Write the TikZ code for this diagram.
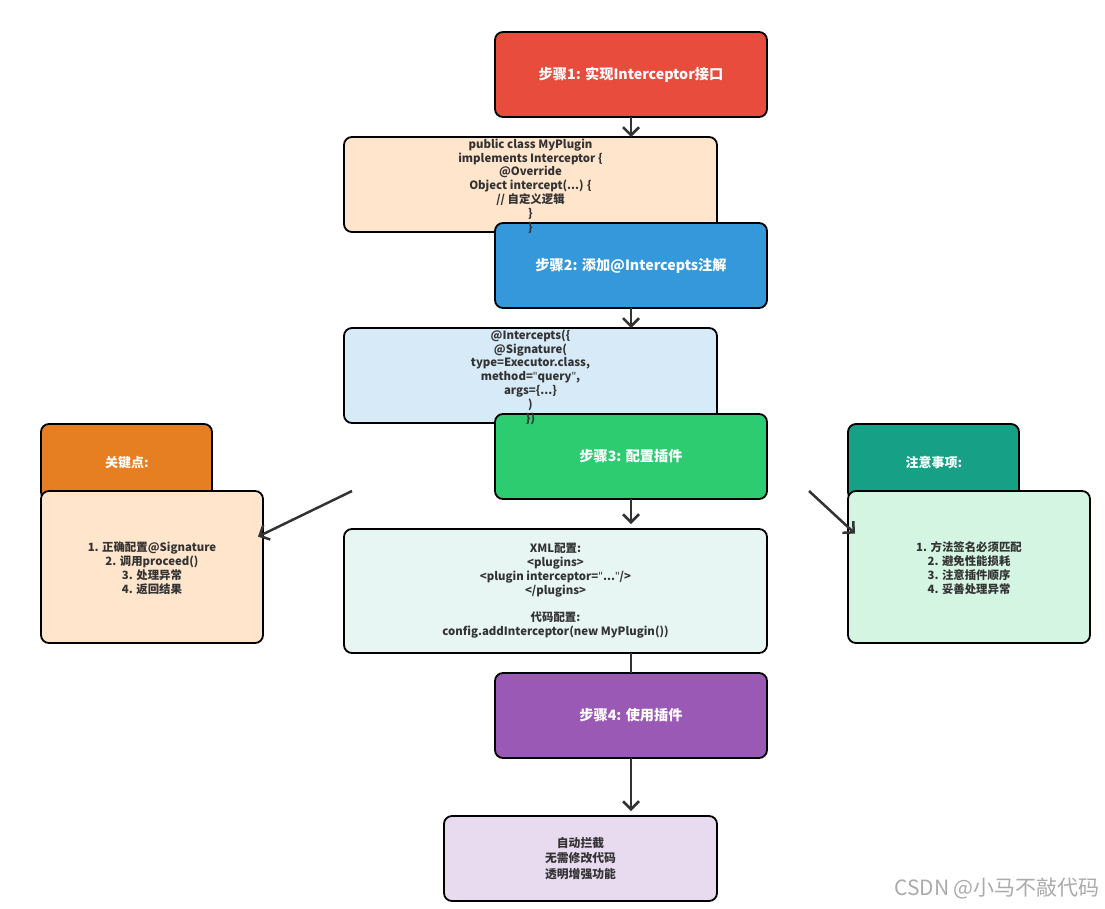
\documentclass[tikz,border=0pt]{standalone}
\usepackage{fontspec}
\setmainfont{Noto Sans CJK SC}
\newfontfamily\qf{Noto Sans}
\newcommand\dq{{\qf\bfseries"}}
\usetikzlibrary{arrows.meta,calc}
\definecolor{cred}{HTML}{E74C3C}
\definecolor{cblue}{HTML}{3498DB}
\definecolor{cgreen}{HTML}{2ECC71}
\definecolor{cpurple}{HTML}{9B59B6}
\definecolor{corange}{HTML}{E67E22}
\definecolor{cteal}{HTML}{16A085}
\definecolor{cpeach}{HTML}{FFE5CC}
\definecolor{clblue}{HTML}{D6EAF8}
\definecolor{ccfg}{HTML}{E8F6F3}
\definecolor{cres}{HTML}{E8DAEF}
\definecolor{cmint}{HTML}{D5F5E3}
\definecolor{ctext}{HTML}{333333}
\definecolor{cwm}{HTML}{ABABAB}
\tikzset{
  box/.style={draw=black, line width=1.8pt, rounded corners=8pt, inner sep=0pt, outer sep=0pt},
  stepbox/.style={box, minimum width=272pt, minimum height=85pt, text=white,
    font=\fontsize{14.2}{17}\selectfont\bfseries},
  hdrbox/.style={box, minimum width=171pt, minimum height=76pt},
  hdrtxt/.style={text=white, inner sep=0pt, font=\fontsize{13}{15}\selectfont\bfseries},
  bodytxt/.style={text=ctext, align=center, inner sep=0pt,
    font=\fontsize{11.4}{13.8}\selectfont\bfseries},
  arr/.style={draw=ctext, line width=2.5pt, -{Straight Barb[length=8pt,width=16pt,line width=2.5pt]}},
  ln/.style={draw=ctext, line width=2.5pt},
}
\begin{document}
\begin{tikzpicture}[x=1pt,y=-1pt]
\useasboundingbox[fill=white] (0,0) rectangle (1105,908);

% step 1
\node[stepbox, fill=cred] (s1) at (631,74.5) {步骤1: 实现Interceptor接口};
% code 1
\node[box, fill=cpeach, minimum width=373pt, minimum height=95pt] (c1) at (530.5,184.5) {};
\draw[arr] (s1.south) -- (s1.south |- c1.north);
% step 2
\node[stepbox, fill=cblue] (s2) at (631,265.5) {步骤2: 添加@Intercepts注解};
\node[bodytxt] (c1t) at (530.5,186) {public class MyPlugin\\implements Interceptor \{\\@Override\\Object intercept(...) \{\\// 自定义逻辑\\\}\\\}};
% code 2
\node[box, fill=clblue, minimum width=373pt, minimum height=95pt] (c2) at (530.5,375.5) {};
\draw[arr] (s2.south) -- (s2.south |- c2.north);
% step 3
\node[stepbox, fill=cgreen] (s3) at (631,456.5) {步骤3: 配置插件};
\node[bodytxt] (c2t) at (530.5,377) {@Intercepts(\{\\@Signature(\\type=Executor.class,\\method=\dq query\dq,\\args=\{...\}\\)\\\})};
% config
\node[box, fill=ccfg, minimum width=423pt, minimum height=124pt] (cfg) at (555.5,591) {};
\node[bodytxt] (cfgt) at (555.5,591) {XML配置:\\<plugins>\\<plugin interceptor=\dq...\dq/>\\</plugins>\\[13.8pt]代码配置:\\config.addInterceptor(new MyPlugin())};
\coordinate (s3e) at (631,524);
\draw[arr] (s3.south) -- (s3e);
% step 4
\node[stepbox, fill=cpurple] (s4) at (631,715.5) {步骤4: 使用插件};
\draw[ln] (s4.north |- cfg.south) -- (s4.north);
% result
\node[box, fill=cres, minimum width=273pt, minimum height=85pt] (res) at (580.5,858.5) {};
\node[bodytxt, font=\fontsize{11.8}{15.5}\selectfont\bfseries] (rest) at (580.5,858.5) {自动拦截\\无需修改代码\\透明增强功能};
\coordinate (s4e) at (631,811);
\draw[arr] (s4.south) -- (s4e);

% key points
\node[hdrbox, fill=corange] (kh) at (126.5,462) {};
\node[hdrtxt] (kht) at (127,462.5) {关键点:};
\node[box, fill=cpeach, minimum width=222pt, minimum height=152pt] (kb) at (152,567) {};
\node[bodytxt] (kbt) at (152,568) {1. 正确配置@Signature\\2. 调用proceed()\\3. 处理异常\\4. 返回结果};
\coordinate (la) at (352,491);
\draw[arr] (la) -- ([xshift=-5pt]$(kb.north east)!0.3!(kb.south east)$);

% notes
\node[hdrbox, fill=cteal] (nh) at (933.5,462) {};
\node[hdrtxt] (nht) at (934,462.5) {注意事项:};
\node[box, fill=cmint, minimum width=242pt, minimum height=152pt] (nb) at (969,567) {};
\node[bodytxt] (nbt) at (969,568) {1. 方法签名必须匹配\\2. 避免性能损耗\\3. 注意插件顺序\\4. 妥善处理异常};
\coordinate (ra) at (809,491);
\draw[arr] (ra) -- ([xshift=7pt]$(nb.north west)!0.28!(nb.south west)$);

% watermark
\node[anchor=east, text=cwm, font=\fontsize{21}{23}\selectfont, inner sep=0pt] (wm) at (1100,888) {CSDN @小马不敲代码};
\end{tikzpicture}
\end{document}
